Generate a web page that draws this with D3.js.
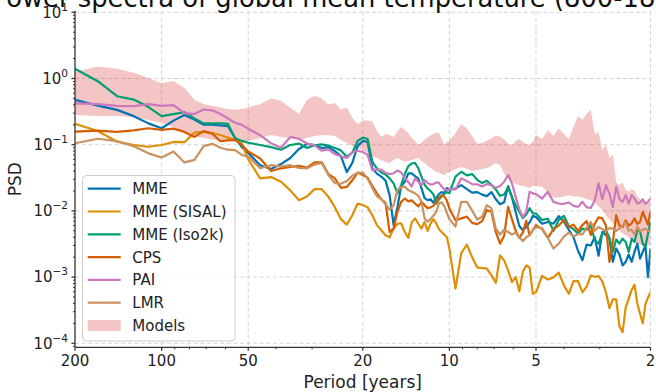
<!DOCTYPE html>
<html>
<head>
<meta charset="UTF-8">
<title>Power spectra of global mean temperature</title>
<style>
  body { margin: 0; background: #fff; }
  svg { display: block; font-family: "DejaVu Sans", sans-serif; }
</style>
</head>
<body>
<script src="https://d3js.org/d3.v7.min.js"></script>
<svg></svg>
<script>
// frequency grid (cycles / year), shared by every spectrum
const freq = [
  0.005, 0.006, 0.007, 0.008, 0.009, 0.010, 0.011, 0.012, 0.013, 0.014, 0.015, 0.016, 0.017, 0.018, 0.019,
  0.020, 0.022, 0.024, 0.026, 0.028, 0.030, 0.032, 0.034, 0.036, 0.038, 0.040, 0.042, 0.044, 0.046, 0.048,
  0.050, 0.052, 0.054, 0.056, 0.058, 0.060, 0.062, 0.064, 0.066, 0.068, 0.070, 0.072, 0.074, 0.076, 0.078,
  0.080, 0.082, 0.084, 0.086, 0.088, 0.090, 0.092, 0.094, 0.096, 0.098,
  0.100, 0.105, 0.110, 0.115, 0.120, 0.125, 0.130, 0.135, 0.140, 0.145, 0.150, 0.155, 0.160, 0.165, 0.170,
  0.175, 0.180, 0.185, 0.190, 0.195,
  0.20, 0.21, 0.22, 0.23, 0.24, 0.25, 0.26, 0.27, 0.28, 0.29, 0.30, 0.31, 0.32, 0.33, 0.34, 0.35, 0.36,
  0.37, 0.38, 0.39, 0.40, 0.41, 0.42, 0.43, 0.44, 0.45, 0.46, 0.47, 0.48, 0.49, 0.50
];

const mme = [
  0.475, 0.39, 0.336, 0.27, 0.21, 0.177, 0.231, 0.28, 0.24, 0.20, 0.20, 0.195, 0.19, 0.127, 0.092,
  0.075, 0.049, 0.043, 0.051, 0.063, 0.086, 0.103, 0.099, 0.089, 0.092, 0.080, 0.067, 0.0386, 0.053, 0.096,
  0.114, 0.11, 0.044, 0.0366, 0.033, 0.0287, 0.0173, 0.0061, 0.0114, 0.0237, 0.0275, 0.0369, 0.0369, 0.0336, 0.0308,
  0.0221, 0.0156, 0.0145, 0.015, 0.0133, 0.0156, 0.0179, 0.0192, 0.0185, 0.0221,
  0.0213, 0.0217, 0.0245, 0.0213, 0.0189, 0.0192, 0.0176, 0.0167, 0.0192, 0.0150, 0.0126, 0.0135, 0.0237, 0.0161, 0.0096,
  0.0059, 0.0051, 0.0057, 0.0067, 0.0084,
  0.0081, 0.0064, 0.0068, 0.0064, 0.0083, 0.0069, 0.0052, 0.0040, 0.0025, 0.0018, 0.0031, 0.0030, 0.0040, 0.0021, 0.0048, 0.0043,
  0.0038, 0.0017, 0.0027, 0.0022, 0.0015, 0.0017, 0.0022, 0.0017, 0.0024, 0.0032, 0.0019, 0.0024, 0.0030, 0.0010, 0.0027
];

const mmeSisal = [
  0.206, 0.161, 0.111, 0.099, 0.093, 0.099, 0.110, 0.109, 0.152, 0.156, 0.150, 0.140, 0.128, 0.118, 0.104,
  0.060, 0.031, 0.0324, 0.0275, 0.0204, 0.0145, 0.0165, 0.0213, 0.0213, 0.0163, 0.0114, 0.0075, 0.0062, 0.0086, 0.0129,
  0.0123, 0.0113, 0.0086, 0.0061, 0.0051, 0.0043, 0.0040, 0.0054, 0.0064, 0.0065, 0.0048, 0.0039, 0.0067, 0.0077, 0.0064,
  0.0054, 0.0068, 0.0050, 0.0064, 0.0075, 0.0065, 0.0053, 0.0048, 0.0044, 0.0040,
  0.0027, 0.00067, 0.0023, 0.0031, 0.0020, 0.0014, 0.00137, 0.00134, 0.00106, 0.00082, 0.00213, 0.00179, 0.00126, 0.00084, 0.0010,
  0.00061, 0.0012, 0.0015, 0.0014, 0.00056,
  0.00059, 0.00104, 0.00092, 0.00099, 0.00117, 0.00075, 0.00056, 0.00087, 0.00087, 0.00059, 0.00072, 0.00106, 0.00101, 0.00104, 0.00086, 0.00059,
  0.00034, 0.00046, 0.00046, 0.00018, 0.000147, 0.00035, 0.00047, 0.00064, 0.00077, 0.0004, 0.00028, 0.0002, 0.00039, 0.00049, 0.00059
];

const mmeIso2k = [
  1.40, 0.91, 0.54, 0.48, 0.37, 0.27, 0.29, 0.31, 0.25, 0.21, 0.21, 0.21, 0.206, 0.125, 0.114,
  0.107, 0.099, 0.092, 0.084, 0.099, 0.104, 0.089, 0.098, 0.101, 0.097, 0.089, 0.082, 0.066, 0.076, 0.114,
  0.128, 0.122, 0.055, 0.044, 0.038, 0.0356, 0.031, 0.026, 0.0184, 0.0245, 0.036, 0.0475, 0.052, 0.053, 0.044,
  0.033, 0.025, 0.0218, 0.020, 0.0179, 0.0129, 0.0149, 0.0165, 0.0181, 0.0192,
  0.0185, 0.033, 0.039, 0.0344, 0.036, 0.0295, 0.0263, 0.0285, 0.0248, 0.0211, 0.0169, 0.0177, 0.0226, 0.0163, 0.0122,
  0.0097, 0.0078, 0.0088, 0.011, 0.0092,
  0.0091, 0.0073, 0.0076, 0.0050, 0.0073, 0.0084, 0.0059, 0.0053, 0.0045, 0.0054, 0.0052, 0.0061, 0.0036, 0.0032, 0.0046, 0.0051,
  0.0039, 0.0024, 0.0037, 0.0032, 0.0038, 0.0034, 0.0024, 0.0038, 0.0034, 0.0051, 0.0049, 0.0032, 0.0029, 0.0045, 0.0068
];

const cps = [
  0.157, 0.163, 0.156, 0.165, 0.177, 0.167, 0.175, 0.156, 0.131, 0.16, 0.147, 0.113, 0.116, 0.118, 0.099,
  0.079, 0.062, 0.040, 0.044, 0.046, 0.048, 0.045, 0.054, 0.054, 0.036, 0.031, 0.0223, 0.023, 0.029, 0.038,
  0.0347, 0.0316, 0.0237, 0.0184, 0.015, 0.0132, 0.0048, 0.0054, 0.0097, 0.0137, 0.0154, 0.0139, 0.0144, 0.0129, 0.0117,
  0.0137, 0.0122, 0.011, 0.0113, 0.0119, 0.0137, 0.016, 0.017, 0.0165, 0.0144,
  0.0109, 0.0072, 0.0077, 0.0082, 0.0066, 0.0063, 0.0070, 0.0103, 0.0097, 0.0048, 0.0032, 0.0042, 0.0115, 0.0075, 0.005,
  0.0039, 0.0047, 0.0071, 0.0043, 0.0051,
  0.0061, 0.0053, 0.0039, 0.0053, 0.006, 0.0073, 0.0057, 0.0062, 0.005, 0.0061, 0.007, 0.0043, 0.0064, 0.008, 0.0077, 0.006,
  0.0017, 0.0034, 0.0086, 0.006, 0.0057, 0.0072, 0.006, 0.0065, 0.0077, 0.0064, 0.0068, 0.0097, 0.0077, 0.0062, 0.0097
];

const pai = [
  0.42, 0.41, 0.386, 0.383, 0.41, 0.386, 0.395, 0.30, 0.29, 0.34, 0.33, 0.29, 0.25, 0.215, 0.199,
  0.175, 0.139, 0.105, 0.090, 0.131, 0.123, 0.104, 0.098, 0.081, 0.085, 0.072, 0.067, 0.063, 0.077, 0.081,
  0.078, 0.070, 0.041, 0.042, 0.042, 0.0376, 0.036, 0.037, 0.041, 0.038, 0.031, 0.0272, 0.0234, 0.031, 0.0276,
  0.0245, 0.0292, 0.0263, 0.025, 0.0254, 0.027, 0.0266, 0.0233, 0.0211, 0.0206,
  0.0213, 0.0211, 0.031, 0.0282, 0.0254, 0.0252, 0.0234, 0.0254, 0.0245, 0.0223, 0.0237, 0.0276, 0.0348, 0.0261, 0.0163,
  0.0106, 0.0081, 0.0097, 0.0194, 0.0184,
  0.0179, 0.0154, 0.0194, 0.0137, 0.0129, 0.0128, 0.0134, 0.0119, 0.0115, 0.0137, 0.0113, 0.0111, 0.0144, 0.026, 0.015, 0.0245,
  0.0181, 0.0115, 0.0233, 0.015, 0.0137, 0.0173, 0.0129, 0.0173, 0.0154, 0.0129, 0.0134, 0.015, 0.0129, 0.0137, 0.0154
];

const lmr = [
  0.105, 0.123, 0.113, 0.095, 0.074, 0.064, 0.079, 0.054, 0.059, 0.095, 0.103, 0.090, 0.084, 0.083, 0.070,
  0.066, 0.044, 0.049, 0.0465, 0.049, 0.0445, 0.044, 0.050, 0.053, 0.0347, 0.0263, 0.0257, 0.0282, 0.0339, 0.0376,
  0.038, 0.0305, 0.0221, 0.0167, 0.015, 0.0126, 0.0105, 0.0122, 0.0206, 0.0229, 0.0233, 0.0206, 0.0194, 0.0184, 0.0169,
  0.0137, 0.0077, 0.0069, 0.0075, 0.0085, 0.0097, 0.0129, 0.0135, 0.0118, 0.0093,
  0.0075, 0.0058, 0.0137, 0.0137, 0.0101, 0.0074, 0.0082, 0.0122, 0.0109, 0.0054, 0.0044, 0.0052, 0.0048, 0.0044, 0.0047,
  0.0040, 0.0035, 0.0040, 0.0043, 0.0052,
  0.0057, 0.0055, 0.0039, 0.0027, 0.0032, 0.0041, 0.0047, 0.0041, 0.0045, 0.0044, 0.0056, 0.0068, 0.005, 0.0057, 0.0053, 0.005,
  0.0055, 0.0054, 0.005, 0.0055, 0.006, 0.0067, 0.005, 0.0052, 0.0044, 0.0058, 0.0049, 0.0052, 0.0054, 0.0051, 0.0048
];

// model ensemble envelope
const modelsHigh = [
  1.26, 1.52, 1.40, 1.22, 1.02, 0.85, 0.92, 0.72, 0.476, 0.41, 0.386, 0.366, 0.347, 0.336, 0.347,
  0.366, 0.41, 0.50, 0.46, 0.36, 0.29, 0.476, 0.547, 0.50, 0.406, 0.428, 0.336, 0.366, 0.254, 0.206,
  0.229, 0.233, 0.225, 0.161, 0.131, 0.145, 0.14, 0.131, 0.161, 0.185, 0.167, 0.150, 0.126, 0.114, 0.099,
  0.108, 0.118, 0.129, 0.138, 0.145, 0.153, 0.150, 0.122, 0.101, 0.110,
  0.116, 0.150, 0.206, 0.176, 0.135, 0.103, 0.106, 0.116, 0.125, 0.138, 0.132, 0.12, 0.105, 0.097, 0.114,
  0.122, 0.110, 0.103, 0.099, 0.112,
  0.14, 0.122, 0.167, 0.135, 0.176, 0.145, 0.122, 0.185, 0.272, 0.237, 0.29, 0.336, 0.145, 0.156, 0.083, 0.099,
  0.063, 0.070, 0.0272, 0.0245, 0.0272, 0.0206, 0.0196, 0.0213, 0.0199, 0.0167, 0.015, 0.0137, 0.0132, 0.0132, 0.0137
];
const modelsLow = [
  0.282, 0.272, 0.272, 0.263, 0.237, 0.213, 0.185, 0.150, 0.133, 0.126, 0.12, 0.116, 0.114, 0.111, 0.112,
  0.114, 0.126, 0.14, 0.131, 0.126, 0.118, 0.126, 0.135, 0.14, 0.14, 0.135, 0.118, 0.106, 0.0955, 0.089,
  0.083, 0.075, 0.067, 0.063, 0.0586, 0.0547, 0.053, 0.0586, 0.063, 0.0586, 0.0547, 0.0566, 0.0586, 0.0607, 0.063,
  0.0566, 0.053, 0.0475, 0.0444, 0.0414, 0.0386, 0.0373, 0.036, 0.0347, 0.0373,
  0.0386, 0.043, 0.0461, 0.043, 0.040, 0.0414, 0.043, 0.0444, 0.0475, 0.053, 0.0492, 0.036, 0.0313, 0.0282, 0.0254,
  0.0245, 0.0237, 0.0229, 0.0221, 0.0237,
  0.0237, 0.0229, 0.0192, 0.016, 0.016, 0.0165, 0.0173, 0.0165, 0.0165, 0.016, 0.015, 0.0145, 0.0135, 0.0118, 0.0103, 0.0086,
  0.0075, 0.0065, 0.0057, 0.0051, 0.0046, 0.0043, 0.004, 0.0037, 0.0034, 0.0032, 0.0031, 0.003, 0.003, 0.003, 0.0031
];

const seriesNames = ["MME", "MME (SISAL)", "MME (Iso2k)", "CPS", "PAI", "LMR"];
const seriesValues = [mme, mmeSisal, mmeIso2k, cps, pai, lmr];
const seriesColors = ["#0173b2", "#de8f05", "#029e73", "#d55e00", "#cc78bc", "#ca9161"];
const modelsName = "Models";

const periodTicks = [200, 100, 50, 20, 10, 5, 2];
const psdTicks = [1e-4, 1e-3, 1e-2, 1e-1, 1e0, 1e1];
const psdTickExp = ["\u22124", "\u22123", "\u22122", "\u22121", "0", "1"];

const W = 656, H = 392;
const plotL = 75, plotR = 650.5, plotT = 11, plotB = 347.3;

const svg = d3.select("svg").attr("width", W).attr("height", H);

const x = d3.scaleLog().domain([200, 2]).range([plotL, plotR]);
const y = d3.scaleLog().domain([8.7e-5, 10.46]).range([plotB, plotT]);

svg.append("defs").append("clipPath").attr("id", "plot")
  .append("rect").attr("x", plotL).attr("y", plotT)
  .attr("width", plotR - plotL).attr("height", plotB - plotT);

// grid
const grid = svg.append("g").attr("stroke", "#cfcfcf").attr("stroke-width", 0.9)
  .attr("stroke-dasharray", "4,2.6");
grid.selectAll("line.v").data(periodTicks).enter().append("line")
  .attr("x1", d => x(d)).attr("x2", d => x(d))
  .attr("y1", plotT).attr("y2", plotB);
grid.selectAll("line.h").data(psdTicks).enter().append("line")
  .attr("x1", plotL).attr("x2", plotR)
  .attr("y1", d => y(d)).attr("y2", d => y(d));

const plot = svg.append("g").attr("clip-path", "url(#plot)");

// models band
const band = d3.area()
  .x((d, i) => x(1 / freq[i]))
  .y0((d, i) => y(modelsLow[i]))
  .y1((d, i) => y(modelsHigh[i]));
plot.append("path").datum(freq).attr("d", band)
  .attr("fill", "#d62728").attr("fill-opacity", 0.27);

// spectra
const line = d3.line()
  .x(d => x(1 / d[0]))
  .y(d => y(d[1]));
seriesValues.forEach((vals, k) => {
  plot.append("path")
    .datum(freq.map((f, i) => [f, vals[i]]))
    .attr("d", line)
    .attr("fill", "none")
    .attr("stroke", seriesColors[k])
    .attr("stroke-width", 2.2)
    .attr("stroke-linejoin", "round");
});

// axes
const axisColor = "#333";
const textColor = "#222";
const xMinor = x.ticks().filter(d => !periodTicks.includes(d) && d < 200 && d > 2);
const yMinor = y.ticks().filter(d => !psdTicks.some(t => Math.abs(t - d) / t < 1e-6));

const ax = svg.append("g").attr("stroke", axisColor);
ax.append("line").attr("x1", plotL).attr("x2", plotL).attr("y1", plotT).attr("y2", plotB).attr("stroke-width", 1.25);
ax.append("line").attr("x1", plotL).attr("x2", plotR).attr("y1", plotB).attr("y2", plotB).attr("stroke-width", 1.25);
ax.selectAll("line.xt").data(periodTicks).enter().append("line")
  .attr("x1", d => x(d)).attr("x2", d => x(d))
  .attr("y1", plotB).attr("y2", plotB + 3.5).attr("stroke-width", 1.25);
ax.selectAll("line.xm").data(xMinor).enter().append("line")
  .attr("x1", d => x(d)).attr("x2", d => x(d))
  .attr("y1", plotB).attr("y2", plotB + 2).attr("stroke-width", 1);
ax.selectAll("line.yt").data(psdTicks).enter().append("line")
  .attr("x1", plotL - 3.5).attr("x2", plotL)
  .attr("y1", d => y(d)).attr("y2", d => y(d)).attr("stroke-width", 1.25);
ax.selectAll("line.ym").data(yMinor).enter().append("line")
  .attr("x1", plotL - 2).attr("x2", plotL)
  .attr("y1", d => y(d)).attr("y2", d => y(d)).attr("stroke-width", 1);

svg.selectAll("text.xl").data(periodTicks).enter().append("text")
  .attr("x", d => x(d)).attr("y", 366)
  .attr("text-anchor", "middle").attr("font-size", 15).attr("fill", textColor)
  .text(d => d);

const yl = svg.selectAll("text.yl").data(psdTicks).enter().append("text")
  .attr("x", plotL - 7).attr("y", d => y(d) + 5.4)
  .attr("text-anchor", "end").attr("font-size", 15).attr("fill", textColor);
yl.append("tspan").text("10");
yl.append("tspan").attr("dy", -7).attr("font-size", 10.5).text((d, i) => psdTickExp[i]);

svg.append("text").attr("x", (plotL + plotR) / 2).attr("y", 388)
  .attr("text-anchor", "middle").attr("font-size", 17).attr("fill", textColor)
  .text("Period [years]");
svg.append("text").attr("transform", "translate(21," + (plotT + plotB) / 2 + ") rotate(-90)")
  .attr("text-anchor", "middle").attr("font-size", 17).attr("fill", textColor)
  .text("PSD");

svg.append("text").attr("x", -8.5).attr("y", 7)
  .attr("font-size", 25.8).attr("fill", "#111")
  .text("Power spectra of global mean temperature (800-1850)");

// legend
const lg = svg.append("g");
lg.append("rect").attr("x", 82.5).attr("y", 175.5).attr("width", 152.5).attr("height", 165.5)
  .attr("rx", 4).attr("fill", "#fff").attr("fill-opacity", 0.8)
  .attr("stroke", "#cccccc").attr("stroke-width", 1);
const entryY = i => 188.7 + i * 22.8;
seriesNames.forEach((name, i) => {
  lg.append("line").attr("x1", 87.7).attr("x2", 120.7)
    .attr("y1", entryY(i)).attr("y2", entryY(i))
    .attr("stroke", seriesColors[i]).attr("stroke-width", 2.2);
  lg.append("text").attr("x", 132.3).attr("y", entryY(i) + 5.4)
    .attr("font-size", 15).attr("fill", textColor).text(name);
});
lg.append("rect").attr("x", 87.7).attr("y", entryY(6) - 5.5).attr("width", 33).attr("height", 11)
  .attr("fill", "#d62728").attr("fill-opacity", 0.27);
lg.append("text").attr("x", 132.3).attr("y", entryY(6) + 5.4)
  .attr("font-size", 15).attr("fill", textColor).text(modelsName);
</script>
</body>
</html>
